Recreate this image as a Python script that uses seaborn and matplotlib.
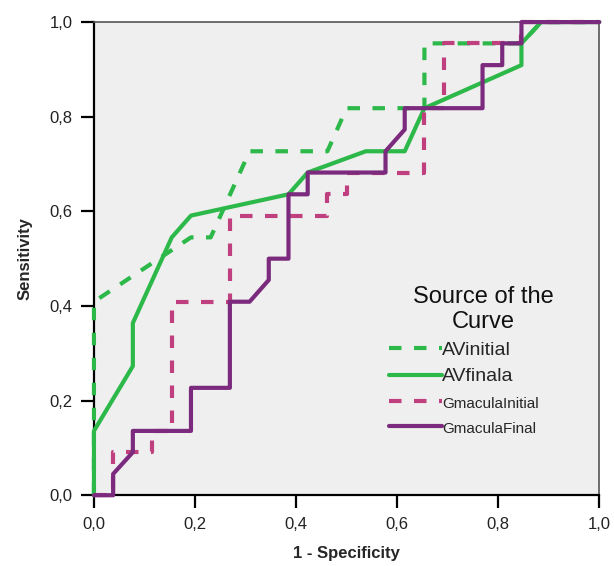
import pandas as pd
import matplotlib
matplotlib.use('Agg')
import matplotlib.pyplot as plt
import seaborn as sns

# ROC curves
av_initial_x = [0, 0, 0.192, 0.231, 0.308, 0.462, 0.5, 0.654, 0.654, 0.846, 0.885, 1]
av_initial_y = [0, 0.409, 0.545, 0.545, 0.727, 0.727, 0.818, 0.818, 0.955, 0.955, 1, 1]

av_final_x = [0, 0, 0.077, 0.077, 0.154, 0.192, 0.385, 0.423, 0.538, 0.615, 0.654, 0.846, 0.846, 0.885, 1]
av_final_y = [0, 0.136, 0.273, 0.364, 0.545, 0.591, 0.636, 0.682, 0.727, 0.727, 0.818, 0.909, 0.955, 1, 1]

gm_initial_x = [0, 0.038, 0.038, 0.115, 0.115, 0.154, 0.154, 0.269, 0.269, 0.462, 0.462, 0.5, 0.5,
                0.654, 0.654, 0.692, 0.692, 0.846, 0.846, 1]
gm_initial_y = [0, 0, 0.091, 0.091, 0.136, 0.136, 0.409, 0.409, 0.591, 0.591, 0.636, 0.636, 0.682,
                0.682, 0.818, 0.818, 0.955, 0.955, 1, 1]

gm_final_x = [0, 0.038, 0.038, 0.077, 0.077, 0.192, 0.192, 0.269, 0.269, 0.308, 0.346, 0.346, 0.385,
              0.385, 0.423, 0.423, 0.577, 0.577, 0.615, 0.615, 0.769, 0.769, 0.808, 0.808, 0.846, 0.846, 1]
gm_final_y = [0, 0, 0.045, 0.091, 0.136, 0.136, 0.227, 0.227, 0.409, 0.409, 0.455, 0.5, 0.5,
              0.636, 0.636, 0.682, 0.682, 0.727, 0.773, 0.818, 0.818, 0.909, 0.909, 0.955, 0.955, 1, 1]

curve_names = ['AVinitial', 'AVfinala', 'GmaculaInitial', 'GmaculaFinal']
tick_values = [0.0, 0.2, 0.4, 0.6, 0.8, 1.0]
tick_labels = ['0,0', '0,2', '0,4', '0,6', '0,8', '1,0']

# long table for seaborn
frames = []
for name, xs, ys in zip(curve_names,
                        [av_initial_x, av_final_x, gm_initial_x, gm_final_x],
                        [av_initial_y, av_final_y, gm_initial_y, gm_final_y]):
    frames.append(pd.DataFrame({'fpr': xs, 'tpr': ys, 'curve': name}))
df = pd.concat(frames, ignore_index=True)

sns.set_style('white')
plt.rcParams['font.family'] = ['Liberation Sans', 'DejaVu Sans']

fig = plt.figure(figsize=(6.14, 5.66), dpi=100)
ax = fig.add_axes([0.153, 0.125, 0.823, 0.836])
ax.set_facecolor('#EFEFEF')

palette = {'AVinitial': '#2DB84A', 'AVfinala': '#2DB84A',
           'GmaculaInitial': '#C0407F', 'GmaculaFinal': '#7B2A7E'}
dashes = {'AVinitial': (3, 3), 'AVfinala': '', 'GmaculaInitial': (3, 3), 'GmaculaFinal': ''}

sns.lineplot(data=df, x='fpr', y='tpr', hue='curve', style='curve', units='curve',
             hue_order=curve_names, style_order=curve_names,
             palette=palette, dashes=dashes, sort=False, estimator=None,
             linewidth=3.0, ax=ax)
for line in ax.get_lines():
    line.set_clip_on(False)
    line.set_zorder(3)

ax.set_xlim(0, 1)
ax.set_ylim(0, 1)
ax.set_xticks(tick_values)
ax.set_xticklabels(tick_labels)
ax.set_yticks(tick_values)
ax.set_yticklabels(tick_labels)
ax.tick_params(axis='both', direction='out', length=9.5, width=1.6, color='black',
               labelsize=12, pad=6, labelcolor='#222222', bottom=True, left=True)

for side in ['left', 'bottom']:
    ax.spines[side].set_color('black')
    ax.spines[side].set_linewidth(1.6)
for side in ['top', 'right']:
    ax.spines[side].set_color('#555555')
    ax.spines[side].set_linewidth(1.2)

ax.set_xlabel('1 - Specificity', fontsize=12, fontweight='bold', labelpad=10)
ax.set_ylabel('Sensitivity', fontsize=12, fontweight='bold', labelpad=12)

handles, labels = ax.get_legend_handles_labels()
leg = ax.legend(handles, labels, loc='upper left',
                bbox_to_anchor=(0.55, 0.362), frameon=False, handlelength=2.7,
                handletextpad=0.0, labelspacing=0.45, fontsize=14)
for t in leg.get_texts():
    if t.get_text().startswith('Gmacula'):
        t.set_fontsize(11)

# legend heading, centred a little right of the entries as in SPSS output
ax.text(0.77, 0.393, 'Source of the\nCurve', transform=ax.transAxes, fontsize=17,
        ha='center', va='center', multialignment='center', linespacing=1.15, color='#111111')

fig.savefig('out.png', dpi=100)
